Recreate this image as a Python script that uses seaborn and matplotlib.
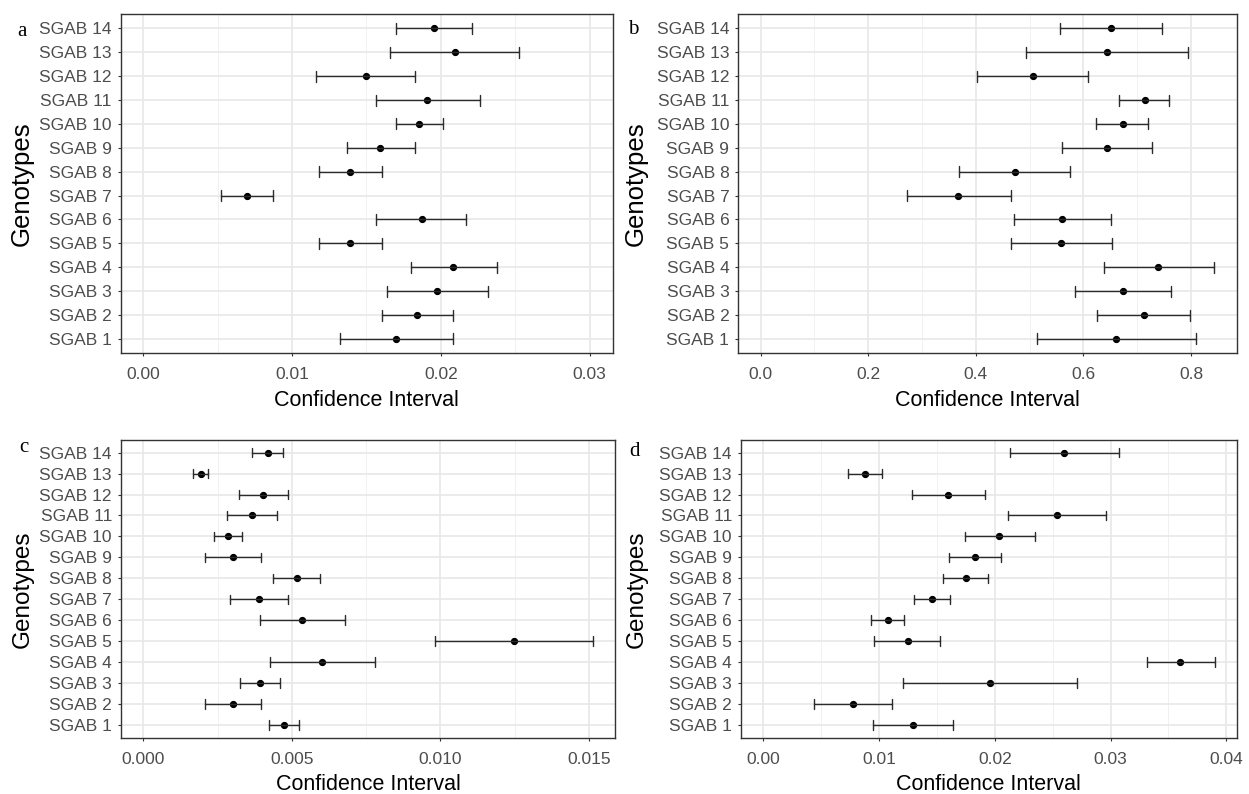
import numpy as np
import pandas as pd
import matplotlib
matplotlib.use("Agg")
import matplotlib.pyplot as plt
import seaborn as sns
from matplotlib.ticker import MultipleLocator, FormatStrFormatter

# ---------------- data (index 0 = SGAB 1 ... index 13 = SGAB 14) ----------------
genotypes = [f"SGAB {i}" for i in range(1, 15)]

# Panel a
a_lo = [0.01321, 0.01601, 0.01636, 0.01800, 0.01182, 0.01567, 0.00521,
        0.01182, 0.01370, 0.01697, 0.01563, 0.01164, 0.01661, 0.01701]
a_mid = [0.01701, 0.01842, 0.01974, 0.02084, 0.01388, 0.01872, 0.00696,
         0.01392, 0.01594, 0.01854, 0.01910, 0.01495, 0.02098, 0.01957]
a_hi = [0.02084, 0.02084, 0.02315, 0.02377, 0.01601, 0.02171, 0.00869,
        0.01607, 0.01824, 0.02017, 0.02261, 0.01824, 0.02527, 0.02212]

# Panel b
b_lo = [0.513, 0.626, 0.585, 0.638, 0.465, 0.471, 0.273,
        0.369, 0.561, 0.624, 0.667, 0.403, 0.493, 0.556]
b_mid = [0.661, 0.712, 0.673, 0.739, 0.559, 0.561, 0.367,
         0.473, 0.644, 0.673, 0.714, 0.507, 0.643, 0.651]
b_hi = [0.809, 0.799, 0.763, 0.843, 0.653, 0.651, 0.465,
        0.575, 0.727, 0.721, 0.760, 0.609, 0.794, 0.747]

# Panel c
c_lo = [0.00423, 0.00207, 0.00325, 0.00426, 0.00983, 0.00393, 0.00291,
        0.00438, 0.00209, 0.00238, 0.00283, 0.00321, 0.00169, 0.00367]
c_mid = [0.00474, 0.00303, 0.00392, 0.00603, 0.01248, 0.00535, 0.00389,
         0.00517, 0.00303, 0.00285, 0.00367, 0.00404, 0.00193, 0.00420]
c_hi = [0.00523, 0.00397, 0.00459, 0.00779, 0.01514, 0.00679, 0.00486,
        0.00596, 0.00397, 0.00333, 0.00449, 0.00486, 0.00219, 0.00471]

# Panel d
d_lo = [0.00945, 0.00441, 0.01205, 0.03311, 0.00954, 0.00931, 0.01303,
        0.01550, 0.01608, 0.01741, 0.02115, 0.01285, 0.00735, 0.02130]
d_mid = [0.01291, 0.00775, 0.01960, 0.03599, 0.01248, 0.01075, 0.01455,
         0.01749, 0.01827, 0.02037, 0.02539, 0.01599, 0.00876, 0.02602]
d_hi = [0.01637, 0.01112, 0.02712, 0.03899, 0.01527, 0.01213, 0.01614,
        0.01942, 0.02055, 0.02343, 0.02963, 0.01919, 0.01026, 0.03072]

panel_letters = ["a", "b", "c", "d"]
x_title = "Confidence Interval"
y_title = "Genotypes"

# ---------------- styling ----------------
sns.set_style("white")
plt.rcParams["font.family"] = ["Liberation Sans", "DejaVu Sans"]

W, H = 1249, 794
fig = plt.figure(figsize=(W / 100, H / 100), dpi=100)


def px_axes(l, r, t, b):
    return fig.add_axes([l / W, 1 - b / H, (r - l) / W, (b - t) / H])


panels = [
    dict(lo=a_lo, mid=a_mid, hi=a_hi, box=(120.7, 613, 14, 353.3),
         xlim=(-0.00152, 0.03157), major=0.01, minor=0.005, fmt="%.2f",
         letter=(22, 31), ylab_x=-0.176, ylab_size=18.5),
    dict(lo=b_lo, mid=b_mid, hi=b_hi, box=(738.3, 1236.7, 14, 353.3),
         xlim=(-0.0415, 0.885), major=0.2, minor=0.1, fmt="%.1f",
         letter=(633.5, 30), ylab_x=-0.181, ylab_size=18.5),
    dict(lo=c_lo, mid=c_mid, hi=c_hi, box=(121, 615, 440, 737.7),
         xlim=(-0.00075, 0.01588), major=0.005, minor=0.0025, fmt="%.3f",
         letter=(23.5, 447), ylab_x=-0.176, ylab_size=17.5),
    dict(lo=d_lo, mid=d_mid, hi=d_hi, box=(741, 1236.7, 440, 737.7),
         xlim=(-0.00193, 0.0409), major=0.01, minor=0.005, fmt="%.2f",
         letter=(634.5, 451), ylab_x=-0.188, ylab_size=17.5),
]

order = genotypes[::-1]  # SGAB 14 at top

for p, letter in zip(panels, panel_letters):
    ax = px_axes(*p["box"])
    df = pd.DataFrame({
        "Genotype": genotypes * 3,
        "value": list(p["lo"]) + list(p["mid"]) + list(p["hi"]),
    })
    sns.pointplot(
        data=df, x="value", y="Genotype", order=order,
        estimator="median", errorbar=lambda v: (v.min(), v.max()),
        capsize=0.46, color="black", linestyle="none", marker="o",
        markersize=3.2, err_kws={"linewidth": 1.0, "color": "#2b2b2b"},
        ax=ax,
    )
    ax.set_xlim(*p["xlim"])
    ax.set_ylim(len(order) - 0.4, -0.6)
    ax.xaxis.set_major_locator(MultipleLocator(p["major"]))
    ax.xaxis.set_minor_locator(MultipleLocator(p["minor"]))
    ax.xaxis.set_major_formatter(FormatStrFormatter(p["fmt"]))

    ax.set_axisbelow(True)
    ax.grid(True, which="major", axis="both", color="#E8E8E8", linewidth=1.2)
    ax.grid(True, which="minor", axis="x", color="#F0F0F0", linewidth=0.7)

    for s in ax.spines.values():
        s.set_visible(True)
        s.set_color("#333333")
        s.set_linewidth(1.0)

    ax.tick_params(axis="x", which="major", length=2.5, width=0.8,
                   color="#333333", pad=7.5, labelsize=12.5,
                   labelcolor="#4D4D4D", bottom=True)
    ax.tick_params(axis="y", which="major", length=2.5, width=0.8,
                   color="#333333", pad=4, labelsize=12.5,
                   labelcolor="#4D4D4D", left=True)
    ax.tick_params(which="minor", length=0)

    ax.set_xlabel(x_title, fontsize=15.5, color="black", labelpad=5.3)
    ax.set_ylabel(y_title, fontsize=p["ylab_size"], color="black")
    ax.yaxis.set_label_coords(p["ylab_x"], 0.5)

    lx, ly = p["letter"]
    fig.text(lx / W, 1 - ly / H, letter, ha="center", va="center",
             fontsize=15, family=["Liberation Serif", "DejaVu Serif"],
             color="black")

fig.savefig("out.png", dpi=100)
